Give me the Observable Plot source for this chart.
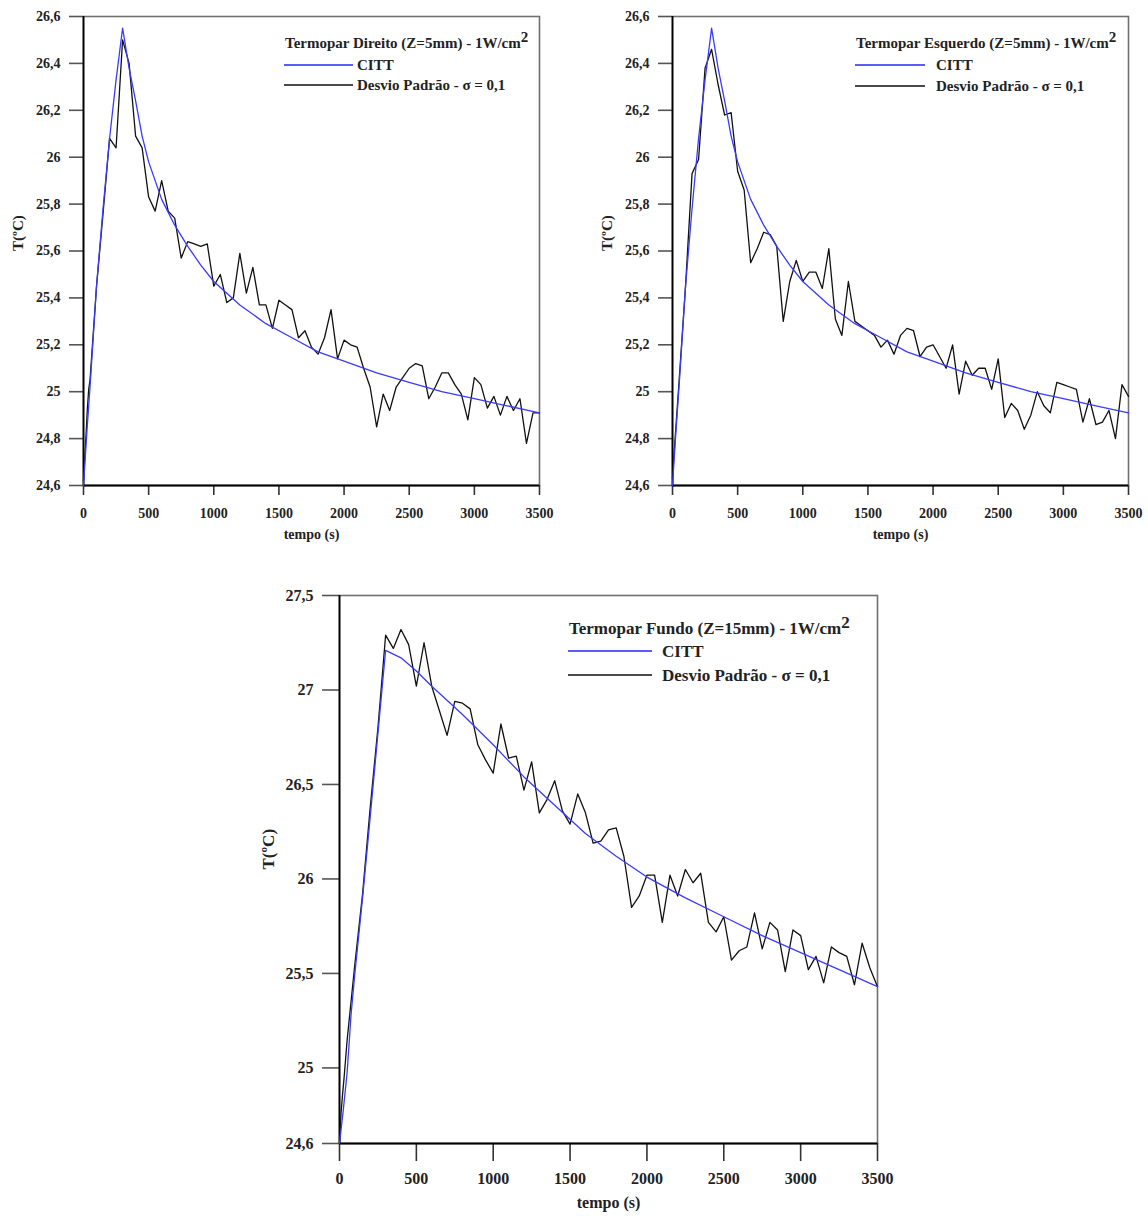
<!DOCTYPE html>
<html>
<head>
<meta charset="utf-8">
<script src="https://cdn.jsdelivr.net/npm/d3@7"></script>
<script src="https://cdn.jsdelivr.net/npm/@observablehq/plot@0.6"></script>
<style>
  html, body { margin: 0; padding: 0; background: #fff; }
  #root { position: relative; width: 1148px; height: 1216px; overflow: hidden; background: #fff;
          font-family: "Liberation Serif", "Times New Roman", serif; font-weight: bold; color: #222; }
  .panel { position: absolute; }
  .lg { position: absolute; white-space: nowrap; font-weight: bold; color: #222; }
  .lgline { position: absolute; height: 2px; }
  .sup { position: relative; top: -6px; }
</style>
</head>
<body>
<div id="root"></div>
<script>
// ---------------- DATA ----------------
// Shared time grid of the noisy series (s)
const noisyTime = [0, 10, 20, 30, 40, 50, 100, 150, 200, 250, 300, 350, 400, 450, 500, 550, 600, 650, 700, 750,
  800, 850, 900, 950, 1000, 1050, 1100, 1150, 1200, 1250, 1300, 1350, 1400, 1450, 1500, 1550, 1600, 1650, 1700, 1750,
  1800, 1850, 1900, 1950, 2000, 2050, 2100, 2150, 2200, 2250, 2300, 2350, 2400, 2450, 2500, 2550, 2600, 2650, 2700, 2750,
  2800, 2850, 2900, 2950, 3000, 3050, 3100, 3150, 3200, 3250, 3300, 3350, 3400, 3450, 3500];

// Termopar Direito – Desvio Padrão σ = 0,1
const direitoNoisy = [24.62, 24.72, 24.82, 24.93, 25.01, 25.05, 25.45, 25.76, 26.08, 26.04, 26.50, 26.40, 26.09, 26.04, 25.83, 25.77, 25.90, 25.77, 25.74, 25.57,
  25.64, 25.63, 25.62, 25.63, 25.45, 25.50, 25.38, 25.40, 25.59, 25.42, 25.53, 25.37, 25.37, 25.27, 25.39, 25.37, 25.35, 25.23, 25.26, 25.19,
  25.16, 25.23, 25.35, 25.14, 25.22, 25.20, 25.19, 25.10, 25.02, 24.85, 24.99, 24.92, 25.02, 25.06, 25.10, 25.12, 25.11, 24.97, 25.02, 25.08,
  25.08, 25.03, 24.99, 24.88, 25.06, 25.03, 24.93, 24.98, 24.90, 24.98, 24.92, 24.97, 24.78, 24.91, 24.91];

// Termopar Esquerdo – Desvio Padrão σ = 0,1
const esquerdoNoisy = [24.63, 24.72, 24.80, 24.88, 24.96, 25.04, 25.45, 25.93, 25.99, 26.38, 26.46, 26.31, 26.18, 26.19, 25.94, 25.86, 25.55, 25.61, 25.68, 25.67,
  25.62, 25.30, 25.47, 25.56, 25.47, 25.51, 25.51, 25.44, 25.61, 25.31, 25.24, 25.47, 25.30, 25.28, 25.26, 25.24, 25.19, 25.22, 25.16, 25.24,
  25.27, 25.26, 25.15, 25.19, 25.20, 25.15, 25.10, 25.20, 24.99, 25.13, 25.07, 25.10, 25.10, 25.01, 25.14, 24.89, 24.95, 24.92, 24.84, 24.90,
  25.00, 24.94, 24.91, 25.04, 25.03, 25.02, 25.01, 24.87, 24.97, 24.86, 24.87, 24.92, 24.80, 25.03, 24.98];

// Termopar Fundo – Desvio Padrão σ = 0,1
const fundoNoisy = [24.60, 24.76, 24.86, 24.95, 25.05, 25.15, 25.55, 25.92, 26.38, 26.80, 27.29, 27.22, 27.32, 27.24, 27.02, 27.25, 27.02, 26.89, 26.76, 26.94,
  26.93, 26.90, 26.71, 26.63, 26.56, 26.82, 26.64, 26.65, 26.47, 26.62, 26.35, 26.42, 26.52, 26.36, 26.29, 26.45, 26.35, 26.19, 26.20, 26.26,
  26.27, 26.12, 25.85, 25.91, 26.02, 26.02, 25.77, 26.02, 25.91, 26.05, 25.98, 26.03, 25.77, 25.72, 25.80, 25.57, 25.62, 25.64, 25.82, 25.63,
  25.77, 25.73, 25.51, 25.73, 25.70, 25.52, 25.59, 25.45, 25.64, 25.61, 25.59, 25.44, 25.66, 25.53, 25.43];

// CITT estimate, thermocouples at Z = 5 mm (Direito / Esquerdo)
const cittTopTime = [0, 25, 50, 100, 150, 200, 250, 300, 350, 400, 450, 500, 600, 700, 800, 900, 1000, 1200, 1400, 1600, 1800, 2000, 2250, 2500, 2750, 3000, 3250, 3500];
const cittTop = [24.60, 24.82, 25.02, 25.45, 25.78, 26.08, 26.33, 26.55, 26.38, 26.24, 26.09, 25.98, 25.82, 25.71, 25.62, 25.54, 25.47, 25.37, 25.29, 25.23, 25.17, 25.13, 25.08, 25.04, 25.00, 24.97, 24.94, 24.91];

// CITT estimate, thermocouple at Z = 15 mm (Fundo)
const cittFundoTime = [0, 25, 50, 75, 100, 150, 200, 250, 300, 400, 500, 600, 800, 1000, 1200, 1400, 1600, 1800, 2000, 2250, 2500, 2750, 3000, 3250, 3500];
const cittFundo = [24.60, 24.78, 24.98, 25.28, 25.50, 25.90, 26.33, 26.77, 27.21, 27.17, 27.10, 27.02, 26.87, 26.71, 26.54, 26.39, 26.24, 26.12, 26.01, 25.90, 25.80, 25.70, 25.61, 25.52, 25.43];

// Axis ticks
const xTicks = [0, 500, 1000, 1500, 2000, 2500, 3000, 3500];
const yTicksTop = [24.6, 24.8, 25.0, 25.2, 25.4, 25.6, 25.8, 26.0, 26.2, 26.4, 26.6];
const yTicksFundo = [24.6, 25.0, 25.5, 26.0, 26.5, 27.0, 27.5];

// Texts
const panelTitles = ["Termopar Direito (Z=5mm) - 1W/cm", "Termopar Esquerdo (Z=5mm) - 1W/cm", "Termopar Fundo (Z=15mm) - 1W/cm"];
const seriesNames = ["CITT", "Desvio Padrão - σ = 0,1"];
const xLabel = "tempo (s)";
const yLabel = "T(ºC)";

// ---------------- DRAWING ----------------
const BLUE = "#3a3aff";
const BLACK = "#111";
const fmt = d => { const s = d3.format(".1f")(d); return s.endsWith(".0") ? s.slice(0, -2) : s.replace(".", ","); };
const toRows = (ts, vs) => ts.map((t, i) => ({t, v: vs[i]}));

function makePanel(o) {
  return Plot.plot({
    width: o.width, height: o.height,
    marginLeft: o.ml, marginRight: o.mr, marginTop: o.mt, marginBottom: o.mb,
    style: {fontFamily: '"Liberation Serif", "Times New Roman", serif', fontWeight: "bold", fontSize: o.fs + "px", color: "#222", background: "transparent", overflow: "visible"},
    x: {domain: [0, 3500]},
    y: {domain: o.yDomain},
    marks: [
      Plot.frame({stroke: "#707070", strokeWidth: 1.6}),
      Plot.axisY({ticks: o.yTicks, tickFormat: fmt, tickSize: o.yTickSize, tickPadding: o.yPad, stroke: "#555", strokeWidth: 1.6, label: null, fontSize: o.fs, fill: "#222"}),
      Plot.axisX({ticks: xTicks, tickFormat: d => String(d), tickSize: o.xTickSize, tickPadding: o.xPad, stroke: "#333", strokeWidth: 1.6, label: null, fontSize: o.fs, fill: "#222"}),
      Plot.ruleX([0], {stroke: "#000", strokeWidth: 1.8}),
      Plot.ruleY([o.yDomain[0]], {stroke: "#000", strokeWidth: 1.8}),
      Plot.line(o.noisy, {x: "t", y: "v", stroke: BLACK, strokeWidth: 1.3}),
      Plot.line(o.citt, {x: "t", y: "v", stroke: BLUE, strokeWidth: 1.3}),
      Plot.text([yLabel], {text: d => d, frameAnchor: "left", rotate: -90, dx: o.yLabelDx, fontSize: o.fs + 1, fontWeight: "bold", fill: "#222"}),
      Plot.text([xLabel], {text: d => d, frameAnchor: "bottom", dy: o.xLabelDy, fontSize: o.fs, fontWeight: "bold", fill: "#222"})
    ]
  });
}

const root = document.getElementById("root");

function place(svg, left, top) {
  const d = document.createElement("div");
  d.className = "panel";
  d.style.left = left + "px";
  d.style.top = top + "px";
  d.appendChild(svg);
  root.appendChild(d);
}

function legend(title, x0, lineW, textX, yTitle, y1, y2, fs) {
  const lh = fs + 4;
  const t = document.createElement("div");
  t.className = "lg";
  t.style.left = x0 + "px"; t.style.top = (yTitle - lh / 2) + "px";
  t.style.fontSize = fs + "px"; t.style.lineHeight = lh + "px";
  t.innerHTML = title + '<span class="sup">2</span>';
  root.appendChild(t);
  [[y1, "#5b5bff", seriesNames[0]], [y2, "#4a4a4a", seriesNames[1]]].forEach(([y, c, name]) => {
    const l = document.createElement("div");
    l.className = "lgline";
    l.style.left = (x0 - 1) + "px"; l.style.width = lineW + "px"; l.style.top = (y - 1) + "px"; l.style.background = c;
    root.appendChild(l);
    const s = document.createElement("div");
    s.className = "lg";
    s.style.left = textX + "px"; s.style.top = (y - lh / 2) + "px";
    s.style.fontSize = fs + "px"; s.style.lineHeight = lh + "px";
    s.textContent = name;
    root.appendChild(s);
  });
}

const topCommon = {width: 560, height: 550, ml: 83, mr: 21, mt: 16, mb: 65, yDomain: [24.6, 26.6], yTicks: yTicksTop,
  fs: 14, yTickSize: 14, yPad: 9, xTickSize: 10, xPad: 13, yLabelDx: -65, xLabelDy: 53};

place(makePanel({...topCommon, noisy: toRows(noisyTime, direitoNoisy), citt: toRows(cittTopTime, cittTop)}), 0, 0);
place(makePanel({...topCommon, width: 559, mr: 20, noisy: toRows(noisyTime, esquerdoNoisy), citt: toRows(cittTopTime, cittTop)}), 589, 0);
place(makePanel({width: 640, height: 636, ml: 83, mr: 19, mt: 15, mb: 73, yDomain: [24.6, 27.5], yTicks: yTicksFundo,
  fs: 16, yTickSize: 17, yPad: 9, xTickSize: 18, xPad: 11, yLabelDx: -71, xLabelDy: 64,
  noisy: toRows(noisyTime, fundoNoisy), citt: toRows(cittFundoTime, cittFundo)}), 256, 580);

legend(panelTitles[0], 285, 69, 357, 43, 65, 85, 15);
legend(panelTitles[1], 856, 70, 936, 43, 65, 86, 15);
legend(panelTitles[2], 569, 84, 662, 628, 651, 675, 17);
</script>
</body>
</html>
